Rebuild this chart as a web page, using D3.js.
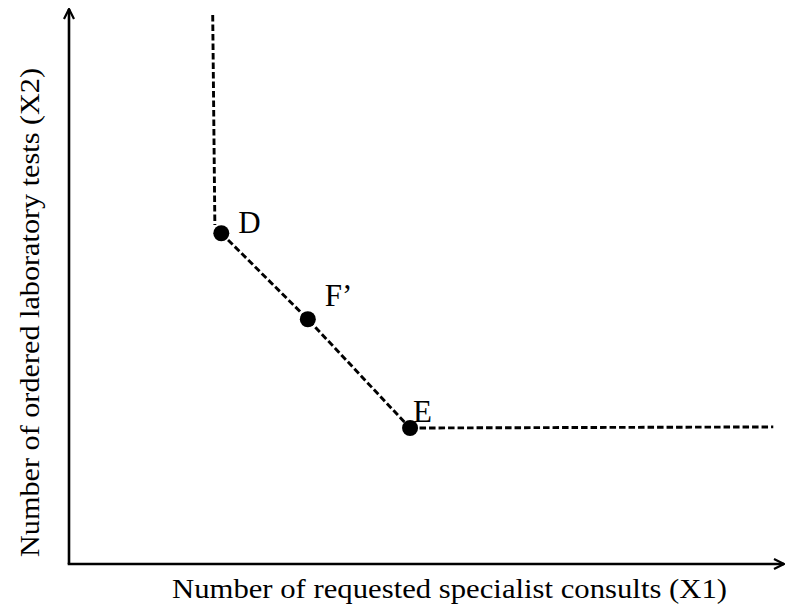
<!DOCTYPE html>
<html><head><meta charset="utf-8">
<script src="https://cdn.jsdelivr.net/npm/d3@7"></script>
<style>html,body{margin:0;padding:0;background:#fff;}svg{display:block;}</style>
</head><body>
<script>
// Data (x1 = specialist consults, x2 = laboratory tests), arbitrary units
const pointNames = ["D", "F\u2019", "E"];
const pointX1 = [21.3, 33.4, 47.7];
const pointX2 = [59.6, 44.1, 24.5];
// upper vertical part of the isoquant and horizontal tail
const upperX1 = [20.1, 20.4];
const upperX2 = [98.9, 61.1];
const tailX1 = [47.7, 98.5];
const tailX2 = [24.5, 24.7];
const xTitle = "Number of requested specialist consults (X1)";
const yTitle = "Number of ordered laboratory tests (X2)";

// pick an installed serif font
const cv = document.createElement("canvas").getContext("2d");
function w(f) { cv.font = "40px " + f; return cv.measureText("Number of requested WwIiDd").width; }
const candidates = ["Liberation Serif", "Times New Roman", "Tinos", "DejaVu Serif", "Noto Serif", "FreeSerif"];
let serifFont = "serif", chosen = "";
for (const c of candidates) {
  if (Math.abs(w(`"${c}", monospace`) - w("monospace")) > 1) { serifFont = `"${c}", serif`; chosen = c; break; }
}
const fs = chosen === "DejaVu Serif" ? 0.91 : 1;

const W = 786, H = 606;
const svg = d3.select("body").append("svg").attr("width", W).attr("height", H);
const x = d3.scaleLinear().domain([0, 100]).range([69, 784]);
const y = d3.scaleLinear().domain([0, 100]).range([564, 9]);

const defs = svg.append("defs");
defs.append("marker").attr("id", "arr").attr("viewBox", "0 0 12 12")
  .attr("refX", 11).attr("refY", 6).attr("markerWidth", 12).attr("markerHeight", 12)
  .attr("markerUnits", "userSpaceOnUse").attr("orient", "auto")
  .append("path").attr("d", "M1,1 L11,6 L1,11").attr("fill", "none")
  .attr("stroke", "#000").attr("stroke-width", 2.2);

// axes
svg.append("path").attr("d", `M${x(0)},${y(0)} L${x(0)},${y(100)}`)
  .attr("stroke", "#000").attr("stroke-width", 2.6).attr("fill", "none").attr("marker-end", "url(#arr)");
svg.append("path").attr("d", `M${x(0)-1.3},${y(0)} L${x(100)},${y(0)}`)
  .attr("stroke", "#000").attr("stroke-width", 2.6).attr("fill", "none").attr("marker-end", "url(#arr)");

const line = d3.line().x(d => x(d[0])).y(d => y(d[1]));
const dashStyle = s => s.attr("fill", "none").attr("stroke", "#000").attr("stroke-width", 2.9).attr("stroke-dasharray", "6.5,3");

svg.append("path").attr("d", line(upperX1.map((v, i) => [v, upperX2[i]]))).call(dashStyle);
svg.append("path").attr("d", line(pointX1.map((v, i) => [v, pointX2[i]]))).call(dashStyle);
svg.append("path").attr("d", line(tailX1.map((v, i) => [v, tailX2[i]]))).call(dashStyle);

svg.selectAll("circle.pt").data(pointNames).join("circle").attr("class", "pt")
  .attr("cx", (d, i) => x(pointX1[i])).attr("cy", (d, i) => y(pointX2[i]))
  .attr("r", 8).attr("fill", "#000");

const labelDx = [17, 17, 3];
const labelDy = [0, -13, -6];
svg.selectAll("text.lbl").data(pointNames).join("text").attr("class", "lbl")
  .attr("x", (d, i) => x(pointX1[i]) + labelDx[i])
  .attr("y", (d, i) => y(pointX2[i]) + labelDy[i])
  .attr("font-family", serifFont)
  .attr("font-size", 31 * fs).attr("fill", "#000").text(d => d);

const xt = svg.append("text").attr("x", 449.5).attr("y", 598).attr("text-anchor", "middle")
  .attr("font-family", serifFont)
  .attr("font-size", 27 * fs).attr("fill", "#000").text(xTitle);
xt.attr("textLength", 555).attr("lengthAdjust", "spacingAndGlyphs");
const yt = svg.append("text").attr("transform", "translate(39,312.5) rotate(-90)").attr("text-anchor", "middle")
  .attr("font-family", serifFont)
  .attr("font-size", 27 * fs).attr("fill", "#000").text(yTitle);
yt.attr("textLength", 489).attr("lengthAdjust", "spacingAndGlyphs");
</script>
</body></html>
